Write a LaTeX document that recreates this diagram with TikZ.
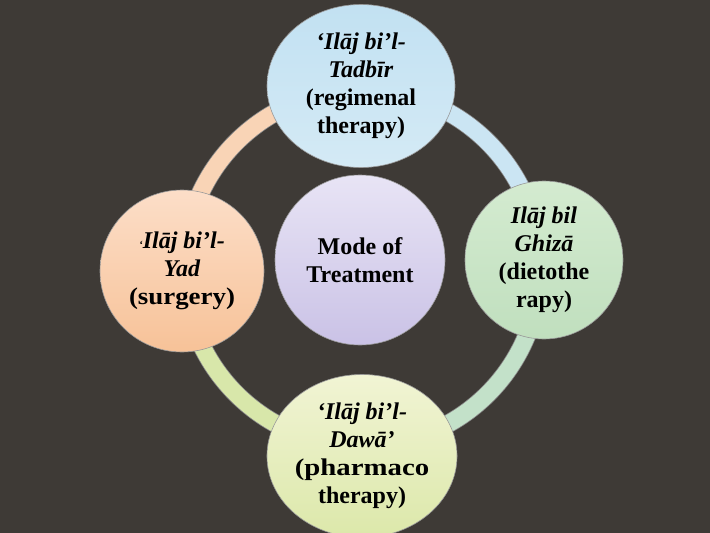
\documentclass[tikz,border=0pt]{standalone}
\usepackage{fontspec}
\setmainfont{Liberation Serif}
\usetikzlibrary{shapes.geometric}
\definecolor{bgdark}{HTML}{3E3A36}
\definecolor{ringpeach}{HTML}{F9D4B6}
\definecolor{ringblue}{HTML}{CBE5F3}
\definecolor{ringgreen}{HTML}{C3E1C9}
\definecolor{ringlime}{HTML}{D8E7AA}
\begin{document}
\begin{tikzpicture}[x=1pt,y=-1pt,
    bubble/.style={ellipse,draw=black!40,line width=0.6pt,align=center,inner sep=0pt,
        font=\bfseries\fontsize{24}{28}\selectfont},
    ringarc/.style={draw=black!45,line width=0.8pt,double distance=17pt}]
\fill[bgdark] (0,0) rectangle (710,533);
\useasboundingbox (0,0) rectangle (710,533);
\coordinate (hub) at (362,268);
% ring behind the bubbles
\draw[ringarc,double=ringpeach] (hub) ++(180:178) arc[start angle=180,end angle=270,radius=178];
\draw[ringarc,double=ringblue] (hub) ++(270:178) arc[start angle=270,end angle=360,radius=178];
\draw[ringarc,double=ringgreen] (hub) ++(0:178) arc[start angle=0,end angle=90,radius=178];
\draw[ringarc,double=ringlime] (hub) ++(90:178) arc[start angle=90,end angle=180,radius=178];
% bubbles
\node[bubble,minimum width=170pt,minimum height=170pt,top color={rgb,255:red,232;green,228;blue,245},bottom color={rgb,255:red,202;green,194;blue,230}]
    (mode) at (360,260) {Mode of\\Treatment};
\node[bubble,minimum width=188pt,minimum height=163pt,top color={rgb,255:red,194;green,225;blue,242},bottom color={rgb,255:red,212;green,234;blue,245}]
    (tadbir) at (361,86) {\textit{‘Ilāj bi’l-}\\\textit{Tadbīr}\\(regimenal\\therapy)};
\node[bubble,minimum width=158pt,minimum height=158pt,top color={rgb,255:red,212;green,235;blue,208},bottom color={rgb,255:red,192;green,223;blue,190}]
    (ghiza) at (544,260) {\textit{Ilāj bil}\\\textit{Ghizā}\\(dietothe\\rapy)};
\node[bubble,minimum width=189pt,minimum height=163pt,top color={rgb,255:red,241;green,244;blue,212},bottom color={rgb,255:red,220;green,232;blue,170}]
    (dawa) at (362,456) {\textit{‘Ilāj bi’l-}\\\textit{Dawā’}\\\scalebox{1.2}[1]{(pharmaco}\\therapy)};
\node[bubble,minimum width=164pt,minimum height=162pt,top color={rgb,255:red,252;green,222;blue,200},bottom color={rgb,255:red,247;green,194;blue,152}]
    (yad) at (182,271) {\textit{{\fontsize{11}{11}\selectfont‘}Ilāj bi’l-}\\\textit{Yad}\\\scalebox{1.12}[1]{(surgery)}};
\end{tikzpicture}
\end{document}
